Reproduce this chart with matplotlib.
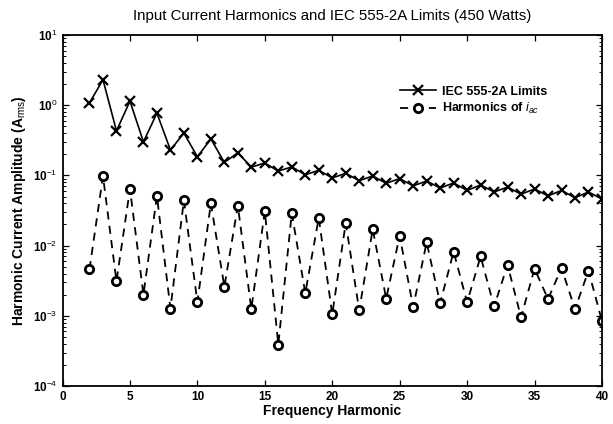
import matplotlib
matplotlib.use("Agg")
import matplotlib.pyplot as plt
from matplotlib.ticker import LogLocator, NullFormatter, FixedLocator

harmonic_order = list(range(2, 41))

iec_limits = [1.08, 2.30, 0.43, 1.14, 0.30, 0.77, 0.23, 0.40, 0.184, 0.33,
              0.153, 0.21, 0.131, 0.15, 0.115, 0.132, 0.102, 0.118, 0.092, 0.107,
              0.084, 0.098, 0.077, 0.090, 0.071, 0.083, 0.066, 0.078, 0.061, 0.073,
              0.058, 0.068, 0.054, 0.064, 0.051, 0.061, 0.048, 0.058, 0.046]

iac_harmonics = [0.0046, 0.098, 0.0031, 0.064, 0.0020, 0.051, 0.00127, 0.044, 0.00157, 0.040,
                 0.0026, 0.037, 0.00125, 0.031, 0.00039, 0.029, 0.0021, 0.0248, 0.00105, 0.021,
                 0.00119, 0.0171, 0.00176, 0.0138, 0.00133, 0.0111, 0.00151, 0.0082, 0.00156, 0.0070,
                 0.00136, 0.0053, 0.00095, 0.0047, 0.00173, 0.0048, 0.00124, 0.0044, 0.00084]

x_ticks = [0, 5, 10, 15, 20, 25, 30, 35, 40]

plt.rcParams['font.family'] = ['Liberation Sans', 'DejaVu Sans']
plt.rcParams['mathtext.fontset'] = 'custom'
plt.rcParams['mathtext.it'] = 'Liberation Sans:italic'
plt.rcParams['mathtext.rm'] = 'Liberation Sans'
plt.rcParams['mathtext.bf'] = 'Liberation Sans:bold'

fig = plt.figure(figsize=(6.13, 4.24), dpi=100)
ax = fig.add_axes([0.102, 0.0896, 0.880, 0.828])

ax.semilogy(harmonic_order, iec_limits, '-x', color='black', lw=1.2,
            ms=7, mew=1.6, label='IEC 555-2A Limits')
ax.semilogy(harmonic_order, iac_harmonics, '--o', color='black', lw=1.3,
            dashes=(4.5, 3.5), ms=6, mew=2.0, mfc='white', mec='black',
            label='Harmonics of $i_{ac}$')

ax.set_xlim(0, 40)
ax.set_ylim(1e-4, 1e1)
ax.xaxis.set_major_locator(FixedLocator(x_ticks))
ax.set_xticklabels([str(t) for t in x_ticks])
ax.yaxis.set_minor_locator(LogLocator(base=10, subs=range(2, 10), numticks=20))
ax.yaxis.set_minor_formatter(NullFormatter())
ax.set_yticks([1e-4, 1e-3, 1e-2, 1e-1, 1e0, 1e1])
ax.set_yticklabels(['10$^{-4}$', '10$^{-3}$', '10$^{-2}$', '10$^{-1}$', '10$^{0}$', '10$^{1}$'])

ax.tick_params(which='both', direction='in', top=True, right=True, labelsize=8.5)
ax.tick_params(which='major', length=4, width=0.9)
ax.tick_params(which='minor', length=2, width=0.7)
for lbl in ax.get_xticklabels() + ax.get_yticklabels():
    lbl.set_fontweight('bold')
for sp in ax.spines.values():
    sp.set_linewidth(1.3)

ax.set_title('Input Current Harmonics and IEC 555-2A Limits (450 Watts)',
             fontsize=10.8, pad=11)
ax.set_xlabel('Frequency Harmonic', fontsize=10, fontweight='bold', labelpad=1)
ax.set_ylabel('Harmonic Current Amplitude (A$_{\\mathrm{rms}}$)', fontsize=10,
              fontweight='bold', labelpad=4)

leg = ax.legend(loc='upper right', bbox_to_anchor=(0.92, 0.887), frameon=False,
                fontsize=9, handlelength=2.9, handletextpad=0.5, labelspacing=0.25)
for t in leg.get_texts():
    t.set_fontweight('bold')

fig.savefig('out.png', dpi=100)
